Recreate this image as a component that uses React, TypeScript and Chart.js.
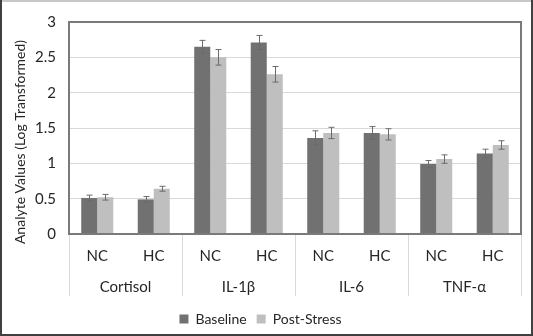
import React, { useEffect, useRef } from "react";
import { Chart, registerables } from "chart.js";

Chart.register(...registerables);

const groups = ["Cortisol", "IL-1β", "IL-6", "TNF-α"];
const subLabels = ["NC", "HC", "NC", "HC", "NC", "HC", "NC", "HC"];
const baseline = [0.51, 0.49, 2.65, 2.71, 1.36, 1.43, 0.99, 1.14];
const baselineErr = [0.04, 0.04, 0.09, 0.1, 0.1, 0.09, 0.05, 0.06];
const postStress = [0.52, 0.64, 2.5, 2.26, 1.43, 1.41, 1.06, 1.26];
const postStressErr = [0.04, 0.035, 0.11, 0.11, 0.08, 0.08, 0.06, 0.06];
const yTitle = "Analyte Values (Log Transformed)";

const FONT = "Lato";
const TEXT = "#262626";

const decorPlugin = {
  id: "decor",
  beforeDraw(chart: any) {
    const { ctx, width, height } = chart;
    ctx.save();
    ctx.fillStyle = "#ffffff";
    ctx.fillRect(0, 0, width, height);
    ctx.restore();
  },
  afterDatasetsDraw(chart: any) {
    const { ctx } = chart;
    const yScale = chart.scales.y;
    const errs = [baselineErr, postStressErr];
    const vals = [baseline, postStress];
    ctx.save();
    ctx.strokeStyle = "#6b6b6b";
    ctx.lineWidth = 1;
    for (let d = 0; d < 2; d++) {
      const meta = chart.getDatasetMeta(d);
      meta.data.forEach((bar: any, i: number) => {
        const x = Math.round(bar.x) + 0.5;
        const yTop = yScale.getPixelForValue(vals[d][i] + errs[d][i]);
        const yBot = yScale.getPixelForValue(vals[d][i] - errs[d][i]);
        ctx.beginPath();
        ctx.moveTo(x, yTop);
        ctx.lineTo(x, yBot);
        ctx.moveTo(x - 3, yTop);
        ctx.lineTo(x + 3, yTop);
        ctx.moveTo(x - 3, yBot);
        ctx.lineTo(x + 3, yBot);
        ctx.stroke();
      });
    }
    ctx.restore();
  },
  afterDraw(chart: any) {
    const { ctx, chartArea, width, height } = chart;
    const x = chart.scales.x;
    const x2 = chart.scales.x2;
    ctx.save();
    ctx.strokeStyle = "#d9d9d9";
    ctx.lineWidth = 1;
    const catW = (x.right - x.left) / subLabels.length;
    for (let g = 0; g <= groups.length; g++) {
      const idx = Math.min(g * 2, subLabels.length - 1);
      let px = x.getPixelForValue(idx) + (g * 2 > subLabels.length - 1 ? catW / 2 : -catW / 2);
      px = Math.round(px) + 0.5;
      ctx.beginPath();
      ctx.moveTo(px, chartArea.bottom);
      ctx.lineTo(px, x2.bottom - 6);
      ctx.stroke();
    }
    ctx.strokeStyle = "#7a7a7a";
    ctx.lineWidth = 2;
    ctx.strokeRect(chartArea.left, chartArea.top, chartArea.right - chartArea.left, chartArea.bottom - chartArea.top);
    ctx.fillStyle = TEXT;
    ctx.font = `14px ${FONT}`;
    ctx.textAlign = "center";
    ctx.textBaseline = "middle";
    ctx.translate(20, 142);
    ctx.rotate(-Math.PI / 2);
    ctx.fillText(yTitle, 0, 0);
    ctx.setTransform(1, 0, 0, 1, 0, 0);
    ctx.fillStyle = "#c8c8c8";
    ctx.fillRect(0, 0, width, 2);
    ctx.fillStyle = "#404040";
    ctx.fillRect(0, 0, 2, height);
    ctx.fillRect(width - 2, 0, 2, height);
    ctx.fillRect(0, height - 2, width, 2);
    ctx.restore();
  },
};

export default function App() {
  const ref = useRef<HTMLCanvasElement | null>(null);
  useEffect(() => {
    document.body.style.margin = "0";
    const canvas = ref.current;
    if (!canvas) return;
    const chart = new Chart(canvas, {
      type: "bar",
      data: {
        labels: subLabels,
        datasets: [
          {
            label: "Baseline",
            data: baseline,
            backgroundColor: "#717171",
            categoryPercentage: 0.567,
            barPercentage: 1,
          },
          {
            label: "Post-Stress",
            data: postStress,
            backgroundColor: "#bfbfbf",
            categoryPercentage: 0.567,
            barPercentage: 1,
          },
        ],
      },
      options: {
        animation: false,
        responsive: false,
        devicePixelRatio: 1,
        layout: { padding: { top: 15, right: 12, left: 0, bottom: 0 } },
        plugins: {
          tooltip: { enabled: false },
          legend: {
            position: "bottom",
            labels: {
              font: { family: FONT, size: 14 },
              color: TEXT,
              boxWidth: 9,
              boxHeight: 9,
              padding: 10,
            },
          },
        },
        scales: {
          y: {
            min: 0,
            max: 3,
            ticks: {
              stepSize: 0.5,
              font: { family: FONT, size: 15 },
              color: TEXT,
              padding: 13,
              callback: (v: any) => String(Number(v)),
            },
            grid: { color: "#d9d9d9", drawTicks: false },
            border: { display: false },
            afterFit: (s: any) => {
              s.width = 69;
            },
          },
          x: {
            position: "bottom",
            grid: { display: false, drawTicks: false },
            border: { display: true, color: "#808080" },
            ticks: {
              font: { family: FONT, size: 15 },
              color: TEXT,
              padding: 13,
              maxRotation: 0,
              autoSkip: false,
            },
            afterFit: (s: any) => {
              s.height = 36;
            },
          },
          x2: {
            type: "category",
            position: "bottom",
            labels: groups,
            offset: true,
            grid: { display: false, drawTicks: false },
            border: { display: false },
            ticks: {
              font: { family: FONT, size: 15 },
              color: TEXT,
              padding: 8,
              maxRotation: 0,
              autoSkip: false,
            },
            afterFit: (s: any) => {
              s.height = 32;
            },
          },
        },
      },
      plugins: [decorPlugin],
    });
    return () => chart.destroy();
  }, []);
  return <canvas ref={ref} width={533} height={336} style={{ display: "block" }} />;
}
